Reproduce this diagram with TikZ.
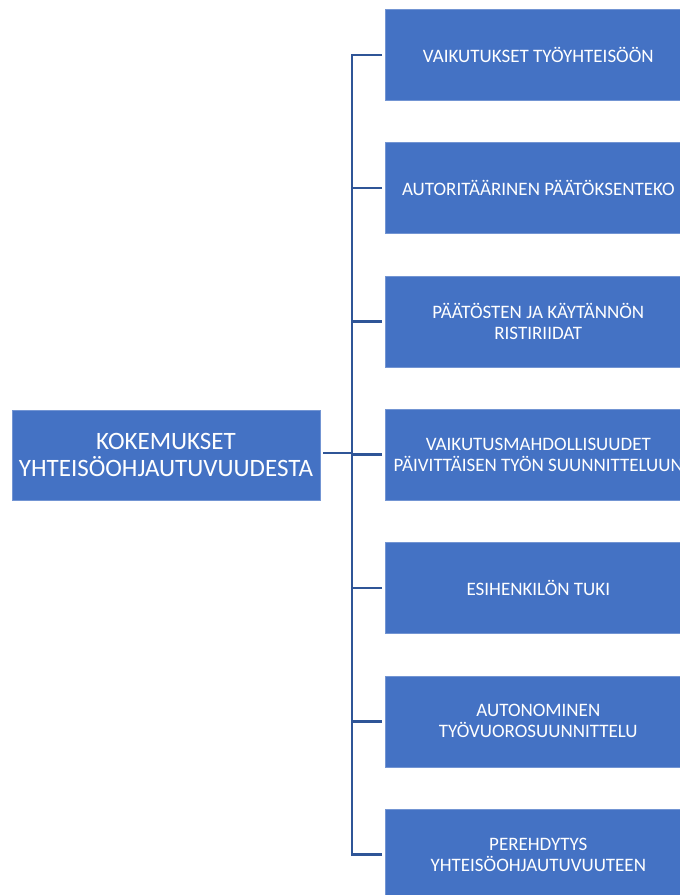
\documentclass[tikz,border=0pt]{standalone}
\usepackage{fontspec}
\setmainfont{Carlito}
\usetikzlibrary{positioning}
\definecolor{boxblue}{HTML}{4472C4}
\definecolor{lineblue}{HTML}{2F5597}

\tikzset{
  mainbox/.style={draw=boxblue!75!white, line width=0.6pt, fill=boxblue, text=white,
    minimum width=308pt, minimum height=90pt, inner sep=0pt, align=center,
    font=\fontsize{25}{27}\selectfont},
  subbox/.style={draw=boxblue!75!white, line width=0.6pt, fill=boxblue, text=white,
    minimum width=306pt, minimum height=91pt, inner sep=0pt, align=center,
    font=\fontsize{19}{21}\selectfont},
  branch/.style={draw=lineblue, line width=2.5pt}
}

\begin{document}
\begin{tikzpicture}[x=1pt, y=-1pt]
    \clip (0,0) rectangle (680,895);
    \fill [white] (0,0) rectangle (680,895);
    \node (Main) [mainbox] at (166,455) {KOKEMUKSET\\YHTEISÖOHJAUTUVUUDESTA};
    \node (A) [subbox, anchor=north west] at (385,9) {VAIKUTUKSET TYÖYHTEISÖÖN};
    \node (B) [subbox, below=41.7pt of A] {AUTORITÄÄRINEN PÄÄTÖKSENTEKO};
    \node (C) [subbox, below=41.7pt of B] {PÄÄTÖSTEN JA KÄYTÄNNÖN\\RISTIRIIDAT};
    \node (D) [subbox, below=41.7pt of C] {VAIKUTUSMAHDOLLISUUDET\\PÄIVITTÄISEN TYÖN SUUNNITTELUUN};
    \node (E) [subbox, below=41.7pt of D] {ESIHENKILÖN TUKI};
    \node (F) [subbox, below=41.7pt of E] {AUTONOMINEN\\TYÖVUOROSUUNNITTELU};
    \node (G) [subbox, below=41.7pt of F] {PEREHDYTYS\\YHTEISÖOHJAUTUVUUTEEN};
    % connectors
    \coordinate (Bus) at (352,453);
    \draw [branch, shorten <=3pt] (Main.east |- Bus) -- (Bus);
    \draw [branch, line cap=rect] (A.west -| Bus) -- (G.west -| Bus);
    \foreach \n in {A,B,C,D,E,F,G}
        \draw [branch, shorten <=3pt] (\n.west) -- (\n.west -| Bus);
\end{tikzpicture}
\end{document}
